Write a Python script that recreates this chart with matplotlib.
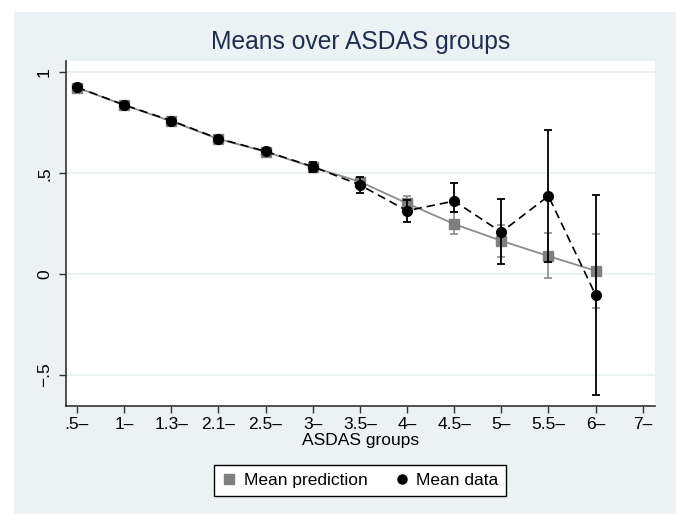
import numpy as np
import matplotlib
matplotlib.use("Agg")
import matplotlib.pyplot as plt
from matplotlib.lines import Line2D
from matplotlib.patches import Rectangle

plt.rcParams['font.family'] = ['Liberation Sans', 'DejaVu Sans']

groups = ['.5\u2013', '1\u2013', '1.3\u2013', '2.1\u2013', '2.5\u2013', '3\u2013', '3.5\u2013',
          '4\u2013', '4.5\u2013', '5\u2013', '5.5\u2013', '6\u2013', '7\u2013']

# mean prediction with CI
pred = [0.925, 0.838, 0.758, 0.670, 0.607, 0.530, 0.458, 0.351, 0.248, 0.165, 0.089, 0.016]
pred_lo = [0.918, 0.832, 0.753, 0.665, 0.602, 0.523, 0.440, 0.313, 0.197, 0.083, -0.021, -0.167]
pred_hi = [0.932, 0.844, 0.763, 0.675, 0.612, 0.537, 0.476, 0.389, 0.307, 0.243, 0.205, 0.200]

# mean data with CI
data = [0.927, 0.839, 0.761, 0.672, 0.609, 0.533, 0.442, 0.314, 0.362, 0.208, 0.387, -0.104]
data_lo = [0.915, 0.829, 0.751, 0.661, 0.599, 0.508, 0.400, 0.260, 0.306, 0.048, 0.061, -0.602]
data_hi = [0.939, 0.849, 0.771, 0.683, 0.619, 0.554, 0.480, 0.367, 0.453, 0.371, 0.715, 0.390]

yticks = [-0.5, 0, 0.5, 1]
ylabels = ['\u2212.5', '0', '.5', '1']

W, H = 676, 514
fig = plt.figure(figsize=(W / 100, H / 100), dpi=100, facecolor='white')
bg = '#eaf2f3'
fig.patches.append(Rectangle((14 / W, 0), 1, 1 - 12 / H, transform=fig.transFigure,
                             facecolor=bg, edgecolor='none', zorder=-10))

ax = fig.add_axes([66 / W, 1 - 406 / H, (655 - 66) / W, (406 - 61) / H])
ax.set_facecolor('white')

x = np.arange(len(pred))
pred = np.array(pred); data = np.array(data)

ax.errorbar(x, pred, yerr=[pred - np.array(pred_lo), np.array(pred_hi) - pred], fmt='none',
            ecolor='#8c8c8c', elinewidth=1.2, capsize=3.2, capthick=1.2, zorder=2)
ax.plot(x, pred, color='#8c8c8c', lw=1.3, marker='s', ms=6.5, mfc='#7f7f7f', mec='#7f7f7f', zorder=3)

ax.errorbar(x, data, yerr=[data - np.array(data_lo), np.array(data_hi) - data], fmt='none',
            ecolor='black', elinewidth=1.3, capsize=3.2, capthick=1.3, zorder=4)
ax.plot(x, data, color='black', lw=1.2, ls=(0, (5, 3)), marker='o', ms=7, mfc='black',
        mec='black', zorder=5)

ax.set_xlim(-0.233, 12.26)
ax.set_ylim(-0.655, 1.057)
ax.set_xticks(np.arange(len(groups)))
ax.set_xticklabels(groups, fontsize=12.5)
ax.set_yticks(yticks)
ax.set_yticklabels(ylabels, fontsize=12.5, rotation=90, va='center')
ax.yaxis.grid(True, color=bg, lw=1.5)
ax.set_axisbelow(True)
for s in ['top', 'right']:
    ax.spines[s].set_visible(False)
for s in ['left', 'bottom']:
    ax.spines[s].set_color('#333333')
    ax.spines[s].set_linewidth(1.2)
ax.tick_params(axis='both', direction='out', length=5, width=1, color='#333333')
ax.tick_params(axis='y', pad=5)
ax.tick_params(axis='x', pad=3)
ax.set_xlabel('ASDAS groups', fontsize=12.5, labelpad=1)

fig.text(360.5 / W, 1 - 42 / H, 'Means over ASDAS groups', fontsize=17.7, color='#1f2d4f',
         ha='center', va='center')

handles = [Line2D([], [], ls='none', marker='s', ms=6.5, color='#7f7f7f'),
           Line2D([], [], ls='none', marker='o', ms=6.5, color='black')]
leg = fig.legend(handles, ['Mean prediction', 'Mean data'], loc='center',
                 bbox_to_anchor=(360 / W, 1 - 480.5 / H), ncol=2, fontsize=12.5,
                 frameon=True, fancybox=False, edgecolor='black', framealpha=1,
                 handlelength=0.9, handletextpad=0.4, columnspacing=1.5, borderpad=0.45)
leg.get_frame().set_linewidth(1.0)

fig.savefig('out.png', dpi=100, facecolor='white')
